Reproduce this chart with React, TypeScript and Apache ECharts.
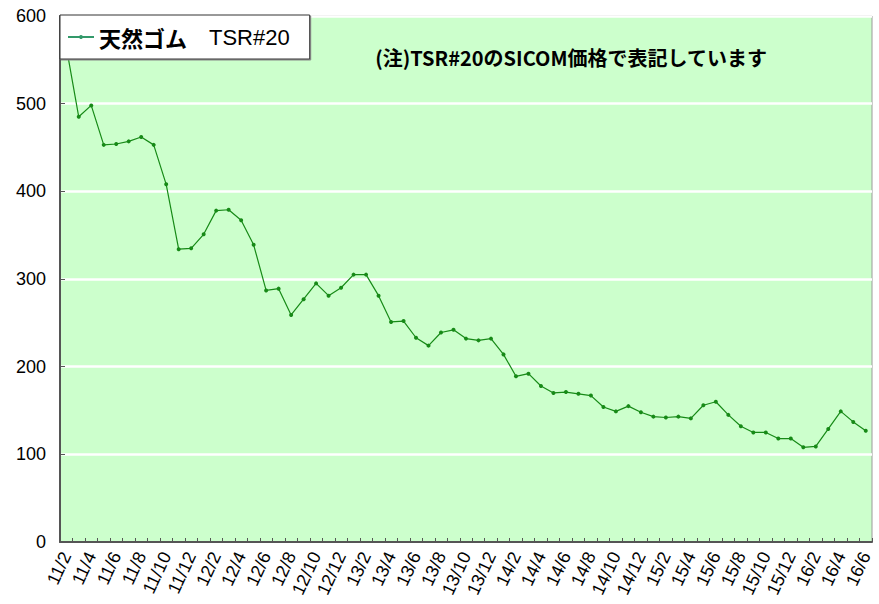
import React, { useEffect, useRef } from "react";
import * as echarts from "echarts";

const categories: string[] = [
  "11/2","11/3","11/4","11/5","11/6","11/7","11/8","11/9","11/10","11/11","11/12",
  "12/1","12/2","12/3","12/4","12/5","12/6","12/7","12/8","12/9","12/10","12/11","12/12",
  "13/1","13/2","13/3","13/4","13/5","13/6","13/7","13/8","13/9","13/10","13/11","13/12",
  "14/1","14/2","14/3","14/4","14/5","14/6","14/7","14/8","14/9","14/10","14/11","14/12",
  "15/1","15/2","15/3","15/4","15/5","15/6","15/7","15/8","15/9","15/10","15/11","15/12",
  "16/1","16/2","16/3","16/4","16/5","16/6",
];

const tsr20: number[] = [
  565, 485, 498, 453, 454, 457, 462, 453, 408, 334, 335,
  351, 378, 379, 367, 339, 287, 289, 259, 277, 295, 281, 290,
  305, 305, 281, 251, 252, 233, 224, 239, 242, 232, 230, 232,
  214, 189, 192, 178, 170, 171, 169, 167, 154, 149, 155, 148,
  143, 142, 143, 141, 156, 160, 145, 132, 125, 125, 118, 118,
  108, 109, 129, 149, 137, 127,
];

const seriesName = "天然ゴム　TSR#20";
const noteText = "(注)TSR#20のSICOM価格で表記しています";

const LATIN = "'Liberation Sans', Arial, 'Noto Sans CJK JP', sans-serif";
const CJK = "'Noto Sans CJK JP', 'Liberation Sans', sans-serif";

export default function App() {
  const ref = useRef<HTMLDivElement>(null);
  useEffect(() => {
    if (!ref.current) return;
    const chart = echarts.init(ref.current, undefined, { renderer: "svg" });
    chart.setOption({
      animation: false,
      backgroundColor: "#ffffff",
      grid: {
        left: 60,
        top: 16,
        right: 7,
        bottom: 62,
        show: true,
        backgroundColor: "#CCFFCC",
        borderColor: "#9a9a9a",
        borderWidth: 1,
      },
      legend: {
        left: 60,
        top: 15,
        orient: "horizontal",
        padding: [11, 20, 11, 7],
        itemWidth: 26,
        itemHeight: 5,
        itemGap: 5,
        backgroundColor: "#ffffff",
        borderColor: "#333333",
        borderWidth: 1,
        shadowColor: "#888888",
        shadowOffsetX: 1,
        shadowOffsetY: 1,
        shadowBlur: 0,
        data: [
          {
            name: seriesName,
            itemStyle: { color: "#33996a" },
            lineStyle: { color: "#33996a", width: 2 },
          },
        ],
        formatter: () => "{a|天然ゴム　}{b|TSR#20}",
        textStyle: {
          color: "#000",
          fontSize: 22,
          rich: {
            a: { fontFamily: CJK, fontWeight: "bold", fontSize: 22, color: "#000" },
            b: { fontFamily: LATIN, fontSize: 22, color: "#000" },
          },
        },
      },
      graphic: [
        {
          type: "text",
          x: 571,
          y: 57,
          z: 100,
          style: {
            text: noteText,
            fontFamily: CJK,
            fontSize: 20,
            fontWeight: "bold",
            fill: "#000",
            textAlign: "center",
            textVerticalAlign: "middle",
          },
        },
      ],
      xAxis: {
        type: "category",
        data: categories,
        boundaryGap: true,
        axisLine: { show: true, lineStyle: { color: "#555555", width: 2 } },
        axisTick: {
          show: true,
          inside: true,
          length: 4,
          interval: 0,
          lineStyle: { color: "#555555", width: 1 },
        },
        axisLabel: {
          interval: 1,
          rotate: 65,
          margin: 11,
          fontSize: 18,
          fontFamily: LATIN,
          color: "#000",
        },
        splitLine: { show: false },
      },
      yAxis: {
        type: "value",
        min: 0,
        max: 600,
        interval: 100,
        axisLine: { show: true, lineStyle: { color: "#555555", width: 2 } },
        axisTick: {
          show: true,
          inside: true,
          length: 5,
          lineStyle: { color: "#555555", width: 1 },
        },
        axisLabel: {
          margin: 14,
          fontSize: 18,
          fontFamily: LATIN,
          color: "#000",
        },
        splitLine: { show: true, lineStyle: { color: "#ffffff", width: 2.5 } },
      },
      series: [
        {
          name: seriesName,
          type: "line",
          data: tsr20,
          symbol: "circle",
          symbolSize: 4,
          showSymbol: true,
          lineStyle: { color: "#178a17", width: 1.2 },
          itemStyle: { color: "#178a17" },
          z: 3,
        },
      ],
    });
    return () => chart.dispose();
  }, []);
  return <div ref={ref} style={{ width: 879, height: 604, position: "absolute", left: 0, top: 0 }} />;
}
